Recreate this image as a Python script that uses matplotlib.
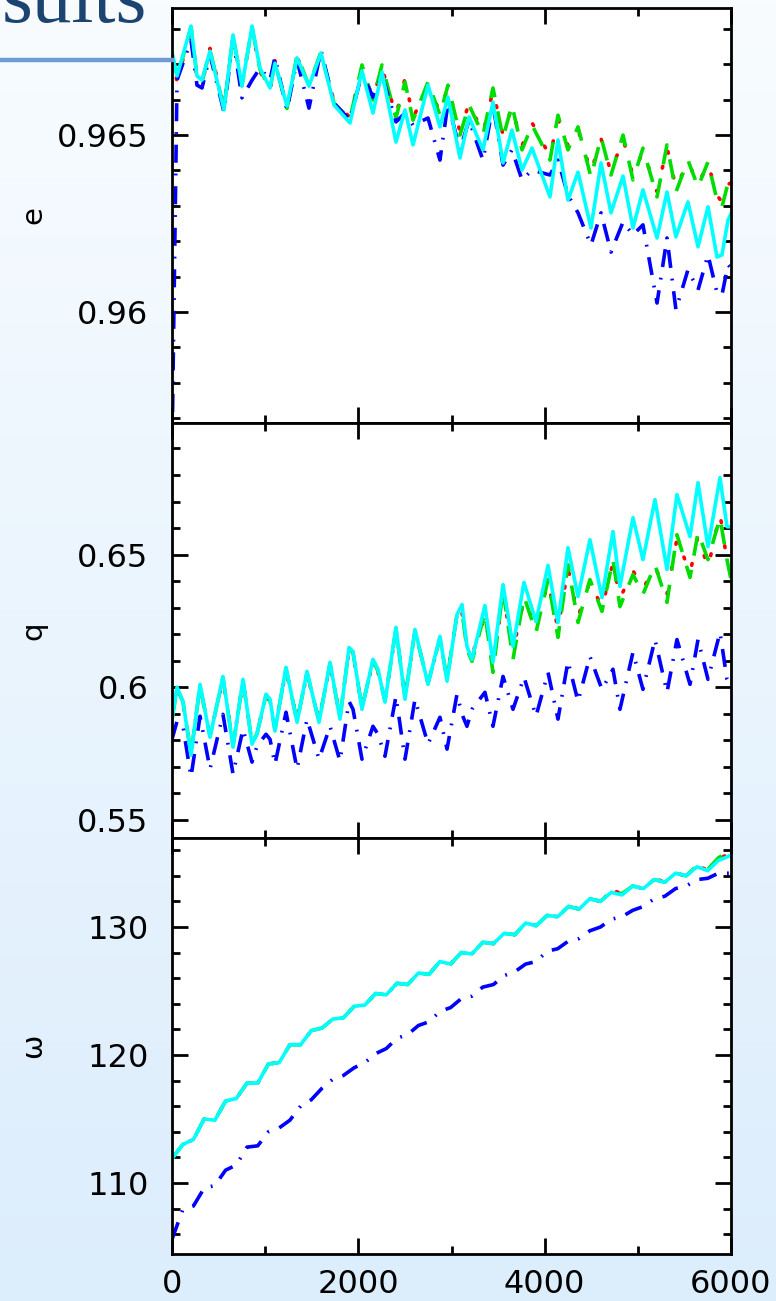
import numpy as np
import matplotlib
matplotlib.use("Agg")
import matplotlib.pyplot as plt
from matplotlib.lines import Line2D
from matplotlib.ticker import MultipleLocator, FuncFormatter

# ---- data ----
# eccentricity panel
x_e = [0, 54, 204, 268, 322, 408, 558, 655, 751, 859, 944, 1052, 1105, 1234, 1342, 1470,
       1599, 1739, 1910, 2039, 2157, 2254, 2404, 2501, 2587, 2748, 2876, 2962, 3091, 3188,
       3338, 3445, 3553, 3649, 3757, 3864, 4057, 4143, 4250, 4358, 4497, 4605, 4712, 4841,
       4948, 5055, 5206, 5313, 5409, 5538, 5646, 5753, 5850, 5903, 5968, 6000]
e_cyan = [0.96732, 0.96667, 0.96808, 0.96667, 0.96655, 0.96737, 0.96571, 0.96783, 0.96638,
          0.96808, 0.96689, 0.96633, 0.96703, 0.96582, 0.96718, 0.96638, 0.96732, 0.96585,
          0.96534, 0.96681, 0.96562, 0.96678, 0.96480, 0.96571, 0.96472, 0.96641, 0.96523,
          0.96607, 0.96435, 0.96551, 0.96458, 0.96593, 0.96421, 0.96514, 0.96401, 0.96463,
          0.96325, 0.96486, 0.96316, 0.96395, 0.96237, 0.96421, 0.96280, 0.96384, 0.96237,
          0.96345, 0.96209, 0.96339, 0.96212, 0.96311, 0.96184, 0.96297, 0.96155, 0.96161,
          0.96260, 0.96277]
e_green = [0.96732, 0.96660, 0.96805, 0.96667, 0.96650, 0.96740, 0.96575, 0.96780, 0.96640,
           0.96805, 0.96685, 0.96630, 0.96705, 0.96575, 0.96725, 0.96640, 0.96735, 0.96590,
           0.96545, 0.96698, 0.96599, 0.96698, 0.96548, 0.96650, 0.96542, 0.96650, 0.96556,
           0.96641, 0.96500, 0.96585, 0.96500, 0.96633, 0.96492, 0.96585, 0.96458, 0.96528,
           0.96429, 0.96556, 0.96458, 0.96523, 0.96381, 0.96494, 0.96387, 0.96500, 0.96373,
           0.96463, 0.96325, 0.96472, 0.96339, 0.96429, 0.96353, 0.96424, 0.96316, 0.96297,
           0.96364, 0.96387]
e_red = [0.96732, 0.96650, 0.96800, 0.96660, 0.96645, 0.96745, 0.96580, 0.96775, 0.96645,
         0.96800, 0.96680, 0.96625, 0.96710, 0.96580, 0.96720, 0.96645, 0.96730, 0.96595,
         0.96550, 0.96690, 0.96605, 0.96690, 0.96555, 0.96660, 0.96548, 0.96640, 0.96565,
         0.96635, 0.96510, 0.96590, 0.96505, 0.96625, 0.96500, 0.96580, 0.96470, 0.96535,
         0.96440, 0.96545, 0.96470, 0.96515, 0.96395, 0.96490, 0.96395, 0.96490, 0.96385,
         0.96455, 0.96340, 0.96465, 0.96350, 0.96425, 0.96360, 0.96420, 0.96330, 0.96310,
         0.96360, 0.96365]
e_blue = [0.95600, 0.96655, 0.96768, 0.96641, 0.96633, 0.96726, 0.96565, 0.96774, 0.96605,
          0.96655, 0.96689, 0.96655, 0.96720, 0.96571, 0.96712, 0.96576, 0.96740, 0.96590,
          0.96542, 0.96675, 0.96607, 0.96670, 0.96537, 0.96562, 0.96528, 0.96548, 0.96429,
          0.96590, 0.96458, 0.96542, 0.96429, 0.96585, 0.96415, 0.96458, 0.96373, 0.96401,
          0.96387, 0.96429, 0.96330, 0.96280, 0.96189, 0.96280, 0.96169, 0.96254, 0.96218,
          0.96246, 0.96025, 0.96209, 0.96006, 0.96119, 0.96062, 0.96161, 0.96054, 0.96048,
          0.96133, 0.96124]

# perihelion distance panel
x_q = [0, 54, 118, 204, 301, 408, 547, 655, 762, 859, 912, 1009, 1052, 1105, 1224, 1342,
       1449, 1578, 1696, 1803, 1900, 1943, 2039, 2157, 2211, 2286, 2404, 2501, 2608, 2748,
       2876, 2952, 3059, 3113, 3166, 3220, 3359, 3445, 3553, 3660, 3778, 3907, 4036, 4143,
       4250, 4358, 4486, 4615, 4733, 4808, 4948, 5055, 5184, 5313, 5420, 5560, 5646, 5753,
       5882, 5957, 6000]
q_cyan = [0.5880, 0.6000, 0.5947, 0.5744, 0.6011, 0.5812, 0.6041, 0.5774, 0.6030, 0.5786,
          0.5823, 0.5974, 0.5955, 0.5835, 0.6075, 0.5868, 0.6060, 0.5868, 0.6094, 0.5880,
          0.6150, 0.6135, 0.5917, 0.6105, 0.6068, 0.5944, 0.6226, 0.5955, 0.6218, 0.6011,
          0.6192, 0.6023, 0.6274, 0.6312, 0.6154, 0.6105, 0.6308, 0.6094, 0.6387, 0.6154,
          0.6395, 0.6248, 0.6459, 0.6244, 0.6526, 0.6342, 0.6556, 0.6338, 0.6587, 0.6380,
          0.6639, 0.6481, 0.6707, 0.6444, 0.6726, 0.6568, 0.6771, 0.6530, 0.6790, 0.6605,
          0.6605]
q_green = [0.5880, 0.5995, 0.5945, 0.5750, 0.6005, 0.5815, 0.6035, 0.5780, 0.6025, 0.5790,
           0.5825, 0.5970, 0.5950, 0.5840, 0.6070, 0.5872, 0.6055, 0.5872, 0.6090, 0.5885,
           0.6145, 0.6130, 0.5922, 0.6100, 0.6062, 0.5948, 0.6220, 0.5960, 0.6212, 0.6015,
           0.6185, 0.6030, 0.6274, 0.6286, 0.6143, 0.6098, 0.6282, 0.6056, 0.6368, 0.6105,
           0.6342, 0.6207, 0.6406, 0.6188, 0.6462, 0.6244, 0.6406, 0.6286, 0.6481, 0.6304,
           0.6425, 0.6350, 0.6462, 0.6320, 0.6575, 0.6414, 0.6583, 0.6481, 0.6639, 0.6481,
           0.6406]
q_red = [0.5880, 0.5990, 0.5942, 0.5755, 0.6000, 0.5818, 0.6030, 0.5785, 0.6020, 0.5795,
         0.5828, 0.5965, 0.5948, 0.5845, 0.6065, 0.5876, 0.6050, 0.5876, 0.6085, 0.5890,
         0.6140, 0.6125, 0.5926, 0.6095, 0.6058, 0.5952, 0.6215, 0.5965, 0.6206, 0.6020,
         0.6178, 0.6040, 0.6265, 0.6280, 0.6160, 0.6120, 0.6270, 0.6085, 0.6350, 0.6140,
         0.6330, 0.6225, 0.6395, 0.6220, 0.6450, 0.6265, 0.6400, 0.6300, 0.6470, 0.6335,
         0.6440, 0.6370, 0.6455, 0.6350, 0.6560, 0.6430, 0.6570, 0.6450, 0.6655, 0.6475,
         0.6440]
q_blue = [0.5804, 0.5872, 0.5853, 0.5662, 0.5891, 0.5692, 0.5898, 0.5673, 0.5842, 0.5718,
          0.5778, 0.5823, 0.5804, 0.5710, 0.5906, 0.5692, 0.5880, 0.5729, 0.5853, 0.5722,
          0.5947, 0.5917, 0.5729, 0.5853, 0.5823, 0.5740, 0.5966, 0.5729, 0.5955, 0.5786,
          0.5887, 0.5767, 0.5974, 0.5898, 0.5853, 0.5917, 0.5981, 0.5853, 0.6041, 0.5917,
          0.6038, 0.5891, 0.6056, 0.5880, 0.6098, 0.5947, 0.6116, 0.5992, 0.6068, 0.5917,
          0.6132, 0.5992, 0.6180, 0.5981, 0.6180, 0.6011, 0.6180, 0.6030, 0.6207, 0.6030,
          0.6004]

# argument of perihelion panel
x_w = [0, 115, 230, 345, 460, 575, 690, 805, 920, 1035, 1150, 1265, 1380, 1495, 1610,
       1725, 1840, 1955, 2070, 2185, 2300, 2415, 2530, 2645, 2760, 2875, 2990, 3105, 3220,
       3335, 3450, 3565, 3680, 3795, 3910, 4025, 4140, 4255, 4370, 4485, 4600, 4715, 4830,
       4945, 5060, 5175, 5290, 5405, 5520, 5635, 5750, 5865, 6000]
w_cyan = [111.9, 113.0, 113.4, 115.0, 114.9, 116.4, 116.6, 117.8, 117.8, 119.3, 119.4,
          120.8, 120.8, 121.9, 122.1, 122.8, 122.9, 123.8, 123.9, 124.8, 124.7, 125.6,
          125.5, 126.4, 126.3, 127.3, 127.1, 128.0, 127.9, 128.8, 128.7, 129.5, 129.4,
          130.3, 130.1, 130.9, 130.8, 131.6, 131.4, 132.2, 132.0, 132.7, 132.5, 133.2,
          133.0, 133.7, 133.5, 134.2, 134.0, 134.7, 134.4, 135.2, 135.6]
w_green = [111.9, 113.0, 113.4, 115.0, 114.9, 116.4, 116.6, 117.8, 117.8, 119.3, 119.4,
           120.8, 120.8, 121.9, 122.1, 122.8, 122.9, 123.8, 123.9, 124.8, 124.7, 125.6,
           125.5, 126.4, 126.3, 127.3, 127.1, 128.0, 127.9, 128.8, 128.7, 129.5, 129.4,
           130.3, 130.1, 130.9, 130.8, 131.6, 131.4, 132.2, 132.0, 132.8, 132.6, 133.2,
           133.0, 133.7, 133.5, 134.2, 134.0, 134.8, 134.5, 135.4, 136.0]
w_red = [111.9, 113.0, 113.4, 115.0, 114.9, 116.4, 116.6, 117.8, 117.8, 119.3, 119.4,
         120.8, 120.8, 121.9, 122.1, 122.8, 122.9, 123.8, 123.9, 124.8, 124.7, 125.6,
         125.5, 126.4, 126.3, 127.3, 127.1, 128.0, 127.9, 128.8, 128.7, 129.5, 129.4,
         130.3, 130.1, 130.9, 130.8, 131.6, 131.4, 132.2, 132.0, 132.9, 132.6, 133.2,
         133.0, 133.8, 133.5, 134.2, 134.0, 134.7, 134.5, 135.3, 135.8]
w_blue = [105.6, 107.9, 108.2, 109.6, 109.8, 111.0, 111.4, 112.8, 112.9, 114.0, 114.3,
          114.9, 116.0, 116.5, 117.4, 118.1, 118.4, 119.0, 119.4, 120.1, 120.5, 121.3,
          121.6, 122.3, 122.6, 123.4, 123.7, 124.4, 124.6, 125.3, 125.5, 126.2, 126.5,
          127.1, 127.3, 128.1, 128.3, 128.9, 129.1, 129.7, 130.0, 130.6, 130.8, 131.3,
          131.6, 132.2, 132.4, 133.0, 133.2, 133.7, 133.8, 134.2, 134.2]

W, H = 776, 1301
fig = plt.figure(figsize=(W / 100, H / 100), dpi=100)

# slide background: pale blue vertical gradient
bg = fig.add_axes([0, 0, 1, 1], zorder=-10)
grad = np.linspace(0, 1, 256)[:, None, None]
top = np.array([248, 252, 255]) / 255.0
bot = np.array([220, 237, 252]) / 255.0
bg.imshow(top + (bot - top) * grad, aspect="auto", extent=[0, 1, 0, 1])
bg.set_axis_off()

fig.text(2 / W, 1 - 22 / H, "sults", fontsize=57, family="Liberation Serif",
         color="#1b4470", ha="left", va="baseline")
fig.add_artist(Line2D([0, 172 / W], [1 - 60 / H] * 2, lw=3.2, color="#6f9bd2"))

left, right = 172 / W, 731 / W
edges = [8, 423, 838, 1254]
panels = [
    (x_e, e_red, e_green, e_blue, e_cyan, (0.95686, 0.96859), 0.005, 0.001, "e"),
    (x_q, q_red, q_green, q_blue, q_cyan, (0.5432, 0.6996), 0.05, 0.01, "q"),
    (x_w, w_red, w_green, w_blue, w_cyan, (104.45, 136.95), 10, 2, "\u03c9"),
]

fmt = FuncFormatter(lambda v, p: "%g" % round(v, 6))
lw = 2.6
for i, (xs, r, g, b, c, ylim, maj, mnr, lab) in enumerate(panels):
    y0 = 1 - edges[i + 1] / H
    y1 = 1 - edges[i] / H
    ax = fig.add_axes([left, y0, right - left, y1 - y0])
    ax.set_facecolor("white")
    ax.plot(xs, r, color="#ff0000", lw=lw, dashes=(0.5, 6.5), dash_capstyle="round")
    ax.plot(xs, g, color="#00dd00", lw=lw, dashes=(5.5, 4))
    ax.plot(xs, b, color="#0000ff", lw=lw, dashes=(5, 3, 0.5, 3))
    ax.plot(xs, c, color="#00ffff", lw=lw)
    ax.set_xlim(0, 6000)
    ax.set_ylim(*ylim)
    ax.xaxis.set_major_locator(MultipleLocator(2000))
    ax.xaxis.set_minor_locator(MultipleLocator(1000))
    ax.yaxis.set_major_locator(MultipleLocator(maj))
    ax.yaxis.set_minor_locator(MultipleLocator(mnr))
    ax.yaxis.set_major_formatter(fmt)
    ax.tick_params(which="both", direction="in", top=True, right=True, width=2,
                   labelsize=23, color="black")
    ax.tick_params(which="major", length=11.5)
    ax.tick_params(which="minor", length=6)
    ax.tick_params(axis="y", pad=17)
    ax.tick_params(axis="x", pad=11)
    for s in ax.spines.values():
        s.set_linewidth(2)
    if i < 2:
        ax.tick_params(labelbottom=False)
    fig.text(33 / W, 1 - (edges[i] + edges[i + 1]) / 2 / H, lab, rotation=90,
             fontsize=21, ha="center", va="center")

fig.savefig("out.png", dpi=100)
